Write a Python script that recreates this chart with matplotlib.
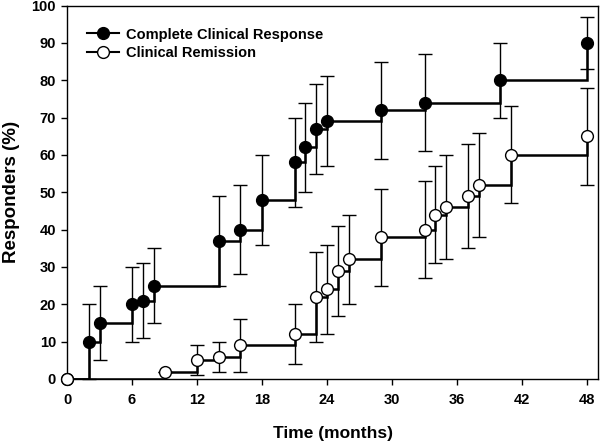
import numpy as np
import matplotlib.pyplot as plt

plt.rcParams['font.family'] = ['Liberation Sans', 'DejaVu Sans']
plt.rcParams['font.weight'] = 'bold'

# Complete Clinical Response (filled)
ccr_mes = [0, 2, 3, 6, 7, 8, 14, 16, 18, 21, 22, 23, 24, 29, 33, 40, 48]
ccr_val = [0, 10, 15, 20, 21, 25, 37, 40, 48, 58, 62, 67, 69, 72, 74, 80, 90]
ccr_bajo = [0, 0, 5, 10, 11, 15, 25, 28, 36, 46, 50, 55, 57, 59, 61, 70, 83]
ccr_alto = [0, 20, 25, 30, 31, 35, 49, 52, 60, 70, 74, 79, 81, 85, 87, 90, 97]

# Clinical Remission (open)
cr_mes = [0, 9, 12, 14, 16, 21, 23, 24, 25, 26, 29, 33, 34, 35, 37, 38, 41, 48]
cr_val = [0, 2, 5, 6, 9, 12, 22, 24, 29, 32, 38, 40, 44, 46, 49, 52, 60, 65]
cr_bajo = [0, 2, 1, 2, 2, 4, 10, 12, 17, 20, 25, 27, 31, 32, 35, 38, 47, 52]
cr_alto = [0, 2, 9, 10, 16, 20, 34, 36, 41, 44, 51, 53, 57, 60, 63, 66, 73, 78]

xticks = [0, 6, 12, 18, 24, 30, 36, 42, 48]
yticks = [0, 10, 20, 30, 40, 50, 60, 70, 80, 90, 100]

fig = plt.figure(figsize=(6, 4.43), dpi=100)
ax = fig.add_axes([0.1117, 0.1445, 0.885, 0.843])


def serie(mes, val, bajo, alto, cara, nombre):
    mes = np.array(mes)
    val = np.array(val)
    err = np.vstack([val - np.array(bajo), np.array(alto) - val])
    sel = mes > 0
    ax.errorbar(mes[sel], val[sel], yerr=err[:, sel], fmt='none', ecolor='black',
                elinewidth=1.0, capsize=5, capthick=1.0, zorder=2, clip_on=False)
    ax.plot(mes, val, drawstyle='steps-post', color='black', lw=1.8, zorder=3,
            solid_joinstyle='miter')
    ax.plot(mes, val, 'o', ms=8.5, mfc=cara, mec='black', mew=1.0, zorder=4,
            clip_on=False)
    # handle para la leyenda
    ax.plot([], [], '-o', color='black', lw=1.5, ms=8.5, mfc=cara, mec='black',
            mew=1.0, label=nombre)


serie(ccr_mes, ccr_val, ccr_bajo, ccr_alto, 'black', 'Complete Clinical Response')
serie(cr_mes, cr_val, cr_bajo, cr_alto, 'white', 'Clinical Remission')

ax.set_xlim(0, 49)
ax.set_ylim(0, 100)
ax.set_xticks(xticks)
ax.set_yticks(yticks)
ax.tick_params(direction='out', length=4, width=1, labelsize=10.5, pad=4)
ax.tick_params(axis='x', pad=6)
for s in ax.spines.values():
    s.set_linewidth(1.0)

ax.set_xlabel('Time (months)', fontsize=12.5, fontweight='bold', labelpad=14)
ax.set_ylabel('Responders (%)', fontsize=13.5, fontweight='bold', labelpad=8)

handles, labels = ax.get_legend_handles_labels()
ax.legend(handles, labels, loc='upper left', frameon=False, fontsize=10.5,
          handlelength=2.2, borderaxespad=0.6, labelspacing=0.3, handletextpad=0.5,
          bbox_to_anchor=(0.01, 0.98))

fig.savefig('out.png', dpi=100)
